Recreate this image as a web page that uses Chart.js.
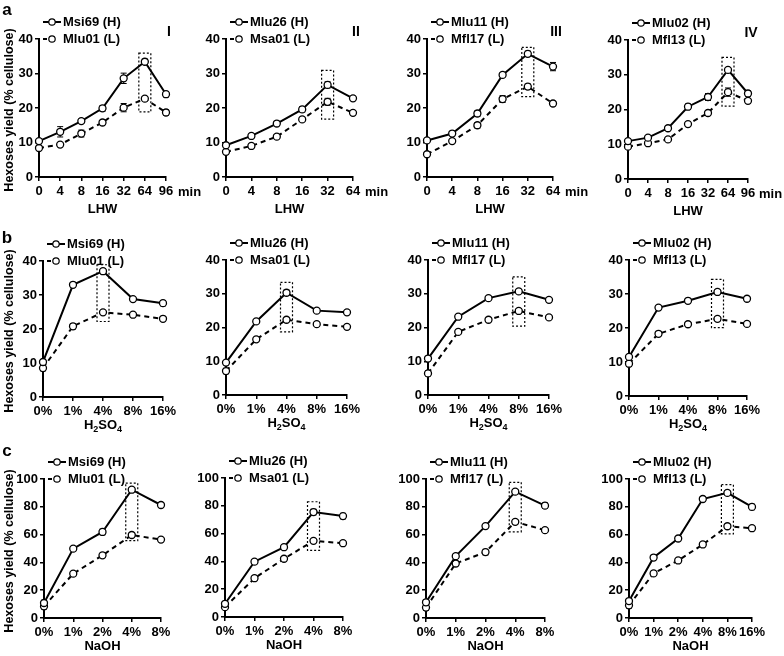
<!DOCTYPE html>
<html>
<head>
<meta charset="utf-8">
<title>Hexoses yield</title>
<style>
  body { margin:0; background:#fff; width:784px; height:656px; position:relative; overflow:hidden;
         font-family:"Liberation Sans", Arial, sans-serif; }
  .pane { position:absolute; }
  .lbl { position:absolute; font-weight:bold; font-size:13px; color:#000; white-space:nowrap;
         transform:translate(-50%,-50%); line-height:1; }
  .ytitle { transform:translate(-50%,-50%) rotate(-90deg); font-size:12.5px; }
  .letter { font-size:17px; }
  sub { font-size:9px; vertical-align:-3px; }
</style>
</head>
<body>
<script src="https://cdn.jsdelivr.net/npm/chart.js"></script>
<script>
// categories
const lhwLong = ["0", "4", "8", "16", "32", "64", "96"];
const lhwShort = ["0", "4", "8", "16", "32", "64"];
const acidCats = ["0%", "1%", "4%", "8%", "16%"];
const naohCats = ["0%", "1%", "2%", "4%", "8%"];
const naohLong = ["0%", "1%", "2%", "4%", "8%", "16%"];

// row a: LHW
const aI_H = [10.4, 13.1, 16.2, 19.9, 28.6, 33.4, 24.0];
const aI_L = [8.4, 9.4, 12.6, 15.8, 20.1, 22.7, 18.7];
const aI_Herr = [0.5, 1.5, 0.6, 0.8, 1.5, 0.8, 0.8];
const aI_Lerr = [0.5, 0.5, 1.0, 0.6, 1.2, 0.6, 0.8];
const aII_H = [9.2, 11.9, 15.5, 19.6, 26.7, 22.8];
const aII_L = [7.3, 9.0, 11.7, 16.7, 21.8, 18.6];
const aII_Herr = [0.5, 0.5, 0.6, 0.8, 0.9, 0.6];
const aII_Lerr = [0.5, 0.5, 0.6, 0.6, 1.0, 0.6];
const aIII_H = [10.6, 12.6, 18.4, 29.6, 35.7, 32.0];
const aIII_L = [6.6, 10.4, 15.0, 22.6, 26.2, 21.3];
const aIII_Herr = [0.5, 0.5, 0.8, 0.6, 0.8, 1.2];
const aIII_Lerr = [0.5, 0.5, 0.8, 1.0, 0.8, 0.6];
const aIV_H = [10.9, 11.9, 14.6, 20.8, 23.6, 31.4, 24.6];
const aIV_L = [9.3, 10.3, 11.4, 15.8, 19.0, 25.0, 22.5];
const aIV_Herr = [0.6, 0.5, 0.5, 0.8, 1.0, 0.6, 0.8];
const aIV_Lerr = [0.5, 0.5, 0.5, 0.6, 0.6, 1.2, 0.6];

// row b: H2SO4
const bI_H = [10.3, 33.0, 37.0, 28.8, 27.6];
const bI_L = [8.5, 20.8, 24.9, 24.2, 23.0];
const bI_Herr = [0.6, 0.5, 0.8, 0.5, 0.8];
const bI_Lerr = [0.8, 0.8, 0.5, 0.5, 0.5];
const bII_H = [9.6, 21.8, 30.3, 25.0, 24.5];
const bII_L = [7.1, 16.5, 22.3, 21.0, 20.2];
const bII_Herr = [0.6, 0.5, 0.8, 0.5, 0.5];
const bII_Lerr = [0.8, 0.6, 0.5, 0.5, 0.6];
const bIII_H = [10.8, 23.2, 28.7, 30.7, 28.2];
const bIII_L = [6.4, 18.7, 22.3, 24.9, 23.0];
const bIII_Herr = [0.6, 0.5, 0.5, 0.6, 0.5];
const bIII_Lerr = [0.8, 0.6, 0.5, 0.6, 0.5];
const bIV_H = [11.5, 26.0, 28.0, 30.6, 28.6];
const bIV_L = [9.5, 18.3, 21.1, 22.7, 21.2];
const bIV_Herr = [0.6, 0.5, 0.5, 0.6, 0.5];
const bIV_Lerr = [0.8, 0.5, 0.5, 0.6, 0.5];

// row c: NaOH
const cI_H = [10.8, 49.9, 61.9, 92.3, 81.3];
const cI_L = [8.4, 31.9, 45.1, 59.7, 56.4];
const cI_Herr = [2.0, 1.5, 2.0, 1.5, 1.5];
const cI_Lerr = [2.0, 1.5, 1.5, 1.5, 1.0];
const cII_H = [9.5, 39.8, 50.2, 75.5, 72.6];
const cII_L = [7.1, 27.9, 41.9, 54.8, 53.1];
const cII_Herr = [1.5, 1.5, 1.0, 2.0, 2.0];
const cII_Lerr = [1.5, 1.5, 1.5, 1.0, 1.0];
const cIII_H = [11.3, 44.5, 66.1, 90.9, 80.8];
const cIII_L = [7.5, 39.2, 47.4, 69.2, 63.2];
const cIII_Herr = [1.5, 1.5, 1.0, 1.5, 2.0];
const cIII_Lerr = [2.0, 1.5, 2.0, 1.5, 1.0];
const cIV_H = [12.2, 43.5, 57.2, 85.6, 90.0, 79.9];
const cIV_L = [9.1, 32.1, 41.4, 52.9, 66.0, 64.6];
const cIV_Herr = [1.5, 1.5, 1.0, 1.5, 1.5, 2.0];
const cIV_Lerr = [2.0, 1.5, 1.0, 1.0, 1.5, 1.0];

// highlighted category (index, top value, bottom value)
const aI_box = [5, 35.9, 18.9], aII_box = [4, 30.9, 16.8], aIII_box = [4, 37.6, 23.3], aIV_box = [5, 35.0, 21.0];
const bI_box = [2, 38.9, 22.2], bII_box = [2, 33.4, 18.7], bIII_box = [3, 35.0, 20.4], bIV_box = [3, 34.3, 20.1];
const cI_box = [3, 97.0, 55.6], cII_box = [3, 82.9, 47.9], cIII_box = [3, 97.6, 62.0], cIV_box = [4, 95.9, 60.5];

const names = [["Msi69 (H)", "Mlu01 (L)"], ["Mlu26 (H)", "Msa01 (L)"], ["Mlu11 (H)", "Mfl17 (L)"], ["Mlu02 (H)", "Mfl13 (L)"]];
const romans = ["I", "II", "III", "IV"];

// plot areas [left, top, right, bottom] in page pixels
const panels = [
  {area:[39, 39, 166, 177], cats:lhwLong, H:aI_H, L:aI_L, He:aI_Herr, Le:aI_Lerr, box:aI_box, col:0, row:0, max:40, step:10},
  {area:[226, 39, 353, 177], cats:lhwShort, H:aII_H, L:aII_L, He:aII_Herr, Le:aII_Lerr, box:aII_box, col:1, row:0, max:40, step:10},
  {area:[427, 39, 553, 177], cats:lhwShort, H:aIII_H, L:aIII_L, He:aIII_Herr, Le:aIII_Lerr, box:aIII_box, col:2, row:0, max:40, step:10},
  {area:[628, 40, 748, 179], cats:lhwLong, H:aIV_H, L:aIV_L, He:aIV_Herr, Le:aIV_Lerr, box:aIV_box, col:3, row:0, max:40, step:10},
  {area:[43, 261, 163, 397], cats:acidCats, H:bI_H, L:bI_L, He:bI_Herr, Le:bI_Lerr, box:bI_box, col:0, row:1, max:40, step:10},
  {area:[226, 260, 347, 395], cats:acidCats, H:bII_H, L:bII_L, He:bII_Herr, Le:bII_Lerr, box:bII_box, col:1, row:1, max:40, step:10},
  {area:[428, 260, 549, 395], cats:acidCats, H:bIII_H, L:bIII_L, He:bIII_Herr, Le:bIII_Lerr, box:bIII_box, col:2, row:1, max:40, step:10},
  {area:[629, 260, 747, 396], cats:acidCats, H:bIV_H, L:bIV_L, He:bIV_Herr, Le:bIV_Lerr, box:bIV_box, col:3, row:1, max:40, step:10},
  {area:[44, 479, 161, 618], cats:naohCats, H:cI_H, L:cI_L, He:cI_Herr, Le:cI_Lerr, box:cI_box, col:0, row:2, max:100, step:20},
  {area:[225, 478, 343, 617], cats:naohCats, H:cII_H, L:cII_L, He:cII_Herr, Le:cII_Lerr, box:cII_box, col:1, row:2, max:100, step:20},
  {area:[426, 479, 545, 618], cats:naohCats, H:cIII_H, L:cIII_L, He:cIII_Herr, Le:cIII_Lerr, box:cIII_box, col:2, row:2, max:100, step:20},
  {area:[629, 479, 752, 618], cats:naohLong, H:cIV_H, L:cIV_L, He:cIV_Herr, Le:cIV_Lerr, box:cIV_box, col:3, row:2, max:100, step:20}
];

const xTitles = ["LHW", "H<sub>2</sub>SO<sub>4</sub>", "NaOH"];
const FONT = '"Liberation Sans", Arial, sans-serif';
Chart.defaults.font.family = FONT;
Chart.defaults.font.weight = 'bold';
Chart.defaults.font.size = 13;
Chart.defaults.color = '#000';

const yW = 40, padT = 40, padR = 40, xH = 34, pageW = 784;

function extras(p) {
  return {
    id: 'extras',
    beforeDatasetsDraw(chart) {
      const ctx = chart.ctx, xs = chart.scales.x, ys = chart.scales.y;
      ctx.save();
      ctx.strokeStyle = '#000';
      ctx.lineWidth = 1;
      [[p.H, p.He], [p.L, p.Le]].forEach(([vals, errs]) => {
        vals.forEach((v, i) => {
          const x = xs.getPixelForValue(i);
          const y1 = ys.getPixelForValue(v - errs[i]), y2 = ys.getPixelForValue(v + errs[i]);
          ctx.beginPath();
          ctx.moveTo(x, y1); ctx.lineTo(x, y2);
          ctx.moveTo(x - 3, y1); ctx.lineTo(x + 3, y1);
          ctx.moveTo(x - 3, y2); ctx.lineTo(x + 3, y2);
          ctx.stroke();
        });
      });
      ctx.restore();
    },
    afterDraw(chart) {
      const ctx = chart.ctx, xs = chart.scales.x, ys = chart.scales.y, a = chart.chartArea;
      ctx.save();
      // dotted highlight box
      const bx = xs.getPixelForValue(p.box[0]);
      const bt = ys.getPixelForValue(p.box[1]), bb = ys.getPixelForValue(p.box[2]);
      ctx.setLineDash([2, 2]);
      ctx.lineWidth = 1.2;
      ctx.strokeStyle = '#000';
      ctx.strokeRect(bx - 6, bt, 12, bb - bt);
      ctx.setLineDash([]);

      // legend
      ctx.font = 'bold 13px ' + FONT;
      ctx.textBaseline = 'middle';
      ctx.textAlign = 'left';
      ctx.fillStyle = '#000';
      names[p.col].forEach((nm, i) => {
        const y = a.top - 17 + i * 17;
        const x0 = a.left + 4, cx = a.left + 13;
        ctx.lineWidth = 2;
        ctx.beginPath();
        if (i === 0) {
          ctx.moveTo(x0, y); ctx.lineTo(a.left + 22, y);
        } else {
          ctx.setLineDash([4, 3]);
          ctx.moveTo(x0, y); ctx.lineTo(cx, y);
        }
        ctx.stroke();
        ctx.setLineDash([]);
        ctx.beginPath();
        ctx.arc(cx, y, 3.2, 0, Math.PI * 2);
        ctx.fillStyle = '#fff'; ctx.fill();
        ctx.lineWidth = 1.2; ctx.stroke();
        ctx.fillStyle = '#000';
        ctx.fillText(nm, a.left + 24, y + 0.5);
      });

      if (p.row === 0) {
        ctx.font = 'bold 14px ' + FONT;
        ctx.textAlign = 'center';
        ctx.fillText(romans[p.col], a.right + 3, a.top - 7);
        ctx.font = 'bold 13px ' + FONT;
        ctx.textAlign = 'left';
        const limit = pageW - (p.area[0] - yW) - 25;
        ctx.fillText('min', Math.min(a.right + 12, limit), a.bottom + 15);
      }
      ctx.restore();
    }
  };
}

panels.forEach(p => {
  const [l, t, r, b] = p.area;
  const w = (r - l) + yW + padR, h = (b - t) + padT + xH;
  const div = document.createElement('div');
  div.className = 'pane';
  div.style.left = (l - yW) + 'px';
  div.style.top = (t - padT) + 'px';
  div.style.width = w + 'px';
  div.style.height = h + 'px';
  const cv = document.createElement('canvas');
  cv.width = w; cv.height = h;
  div.appendChild(cv);
  document.body.appendChild(div);

  const point = {pointRadius: 3.5, pointBackgroundColor: '#fff', pointBorderColor: '#000', pointBorderWidth: 1.3};
  new Chart(cv, {
    type: 'line',
    data: {
      labels: p.cats,
      datasets: [
        Object.assign({label: names[p.col][0], data: p.H, borderColor: '#000', borderWidth: 2, tension: 0}, point),
        Object.assign({label: names[p.col][1], data: p.L, borderColor: '#000', borderWidth: 2, borderDash: [5, 4], tension: 0}, point)
      ]
    },
    options: {
      responsive: false,
      animation: false,
      layout: {padding: {top: padT, right: padR, left: 0, bottom: 0}},
      plugins: {legend: {display: false}, tooltip: {enabled: false}},
      scales: {
        x: {
          offset: false,
          grid: {drawOnChartArea: false, drawTicks: true, tickLength: 4, color: '#000', lineWidth: 1.5},
          border: {display: true, color: '#000', width: 2},
          ticks: {color: '#000', maxRotation: 0, autoSkip: false, padding: 3},
          afterFit(s) { s.height = xH; s.paddingLeft = 0; s.paddingRight = 0; }
        },
        y: {
          min: 0, max: p.max,
          grid: {drawOnChartArea: false, drawTicks: true, tickLength: 4, color: '#000', lineWidth: 1.5},
          border: {display: true, color: '#000', width: 2},
          ticks: {color: '#000', stepSize: p.step, padding: 2},
          afterFit(s) { s.width = yW; s.paddingTop = 0; s.paddingBottom = 0; }
        }
      }
    },
    plugins: [extras(p)]
  });

  // x axis title
  const xt = document.createElement('div');
  xt.className = 'lbl';
  xt.innerHTML = xTitles[p.row];
  xt.style.left = ((l + r) / 2) + 'px';
  xt.style.top = (b + [31, 29, 27][p.row]) + 'px';
  document.body.appendChild(xt);

  if (p.col === 0) {
    const yt = document.createElement('div');
    yt.className = 'lbl ytitle';
    yt.textContent = 'Hexoses yield (% cellulose)';
    yt.style.left = '9px';
    yt.style.top = ((t + b) / 2 + 2) + 'px';
    document.body.appendChild(yt);

    const lt = document.createElement('div');
    lt.className = 'lbl letter';
    lt.textContent = ['a', 'b', 'c'][p.row];
    lt.style.left = '7px';
    lt.style.top = [9, 237, 450][p.row] + 'px';
    document.body.appendChild(lt);
  }
});
</script>
</body>
</html>
